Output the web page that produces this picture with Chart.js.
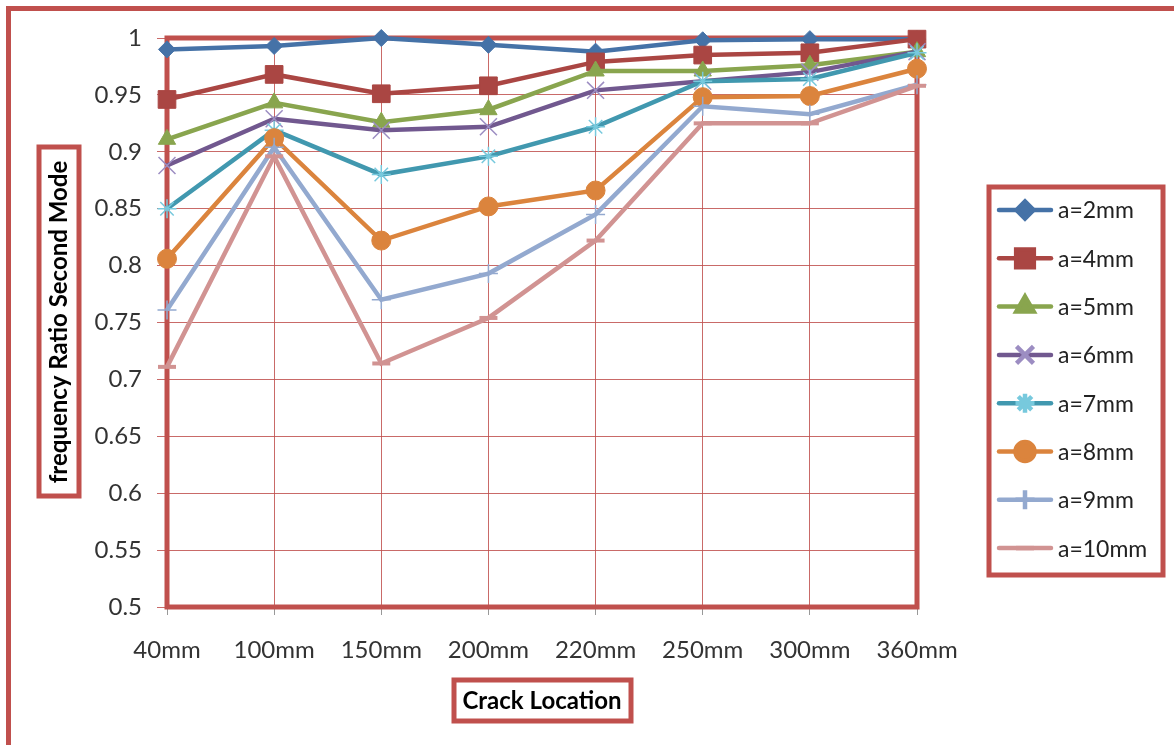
<!DOCTYPE html>
<html>
<head>
<meta charset="utf-8">
<script src="https://cdn.jsdelivr.net/npm/chart.js@4.4.1/dist/chart.umd.min.js"></script>
<style>
  body { margin: 0; background: #fff; overflow: hidden; }
  canvas { display: block; }
</style>
</head>
<body>
<canvas id="chart" width="1174" height="745"></canvas>
<script>
// crack location on x, frequency ratio (2nd mode) on y
const locations = ["40mm", "100mm", "150mm", "200mm", "220mm", "250mm", "300mm", "360mm"];

const a2mm  = [0.990, 0.993, 1.000, 0.994, 0.988, 0.998, 0.999, 0.999];
const a4mm  = [0.946, 0.968, 0.951, 0.958, 0.979, 0.985, 0.987, 0.999];
const a5mm  = [0.911, 0.943, 0.926, 0.937, 0.971, 0.971, 0.976, 0.988];
const a6mm  = [0.888, 0.929, 0.919, 0.922, 0.954, 0.962, 0.970, 0.988];
const a7mm  = [0.850, 0.919, 0.880, 0.896, 0.922, 0.962, 0.964, 0.987];
const a8mm  = [0.806, 0.912, 0.822, 0.852, 0.866, 0.948, 0.949, 0.973];
const a9mm  = [0.761, 0.904, 0.770, 0.793, 0.845, 0.940, 0.933, 0.959];
const a10mm = [0.711, 0.896, 0.714, 0.754, 0.822, 0.925, 0.925, 0.958];

const seriesLabels = ["a=2mm", "a=4mm", "a=5mm", "a=6mm", "a=7mm", "a=8mm", "a=9mm", "a=10mm"];

const RED = "#C0504D";
const FONT = "Lato";

function series(label, data, color, style, radius, markColor, markWidth, idx) {
    return {
        label: label,
        data: data,
        borderColor: color,
        backgroundColor: color,
        borderWidth: 4.5,
        pointStyle: style,
        pointRadius: radius,
        pointHoverRadius: radius,
        pointBackgroundColor: markColor,
        pointBorderColor: markColor,
        pointBorderWidth: markWidth,
        tension: 0,
        clip: false,
        order: 10 - idx
    };
}

const datasets = [
    series(seriesLabels[0], a2mm,  "#4572A7", "rectRot",  8.5, "#4572A7", 1, 0),
    series(seriesLabels[1], a4mm,  "#AA4643", "rect",     12.5, "#AA4643", 1, 1),
    series(seriesLabels[2], a5mm,  "#89A54E", "triangle", 10, "#89A54E", 1, 2),
    series(seriesLabels[3], a6mm,  "#71588F", "crossRot", 12, "#9C8DC2", 1.5, 3),
    series(seriesLabels[4], a7mm,  "#4198AF", "star",     9.5, "#77C9DD", 1.5, 4),
    series(seriesLabels[5], a8mm,  "#DB843D", "circle",   9.5, "#DB843D", 1, 5),
    series(seriesLabels[6], a9mm,  "#93A9CF", "cross",    9.5, "#93A9CF", 1.5, 6),
    series(seriesLabels[7], a10mm, "#D19392", "line",     9, "#D19392", 4, 7)
];

function box(ctx, x, y, w, h) {
    ctx.save();
    ctx.strokeStyle = RED;
    ctx.lineWidth = 5;
    ctx.strokeRect(x, y, w, h);
    ctx.restore();
}

const decorations = {
    id: "decorations",
    beforeDraw(chart) {
        const ctx = chart.ctx;
        box(ctx, 8.5, 8.5, 3000, 3000);

        // y title
        box(ctx, 39, 147, 40, 349);
        ctx.save();
        ctx.translate(59, 322);
        ctx.rotate(-Math.PI / 2);
        ctx.font = "bold 24px " + FONT;
        ctx.fillStyle = "#000";
        ctx.textAlign = "center";
        ctx.textBaseline = "middle";
        ctx.fillText("frequency Ratio Second Mode", 0, 0);
        ctx.restore();

        // x title
        box(ctx, 454, 680, 177, 41);
        ctx.save();
        ctx.font = "bold 24px " + FONT;
        ctx.fillStyle = "#000";
        ctx.textAlign = "center";
        ctx.textBaseline = "middle";
        ctx.fillText("Crack Location", 542, 701);
        ctx.restore();

        // legend frame
        box(ctx, 989, 187, 174, 388);
    },
    beforeDatasetsDraw(chart) {
        const a = chart.chartArea;
        box(chart.ctx, a.left, a.top, a.right - a.left, a.bottom - a.top);
    },
    afterDraw(chart) {
        const ctx = chart.ctx;
        chart.data.datasets.forEach((ds, i) => {
            const y = 210 + i * 48.3;
            ctx.save();
            ctx.strokeStyle = ds.borderColor;
            ctx.lineWidth = 4.5;
            ctx.lineCap = "round";
            ctx.beginPath();
            ctx.moveTo(999, y);
            ctx.lineTo(1051, y);
            ctx.stroke();
            ctx.fillStyle = ds.pointBackgroundColor;
            ctx.strokeStyle = ds.pointBorderColor;
            ctx.lineCap = "butt";
            Chart.helpers.drawPoint(ctx, {
                pointStyle: ds.pointStyle,
                radius: ds.pointRadius,
                rotation: 0,
                borderWidth: ds.pointBorderWidth
            }, 1025, y);
            ctx.fillStyle = "#222";
            ctx.font = "23px " + FONT;
            ctx.textAlign = "left";
            ctx.textBaseline = "middle";
            ctx.fillText(ds.label, 1058, y + 1);
            ctx.restore();
        });
    }
};

new Chart(document.getElementById("chart"), {
    type: "line",
    data: {
        labels: locations,
        datasets: datasets
    },
    options: {
        responsive: false,
        animation: false,
        devicePixelRatio: 1,
        layout: {
            padding: { left: 0, top: 38, right: 257, bottom: 0 }
        },
        plugins: {
            legend: { display: false },
            tooltip: { enabled: false }
        },
        scales: {
            x: {
                offset: false,
                afterFit: (s) => { s.height = 138; },
                grid: {
                    color: "rgba(192, 80, 77, 0.85)",
                    lineWidth: 1,
                    tickColor: "#999",
                    tickLength: 8
                },
                border: { display: false },
                ticks: {
                    color: "#333",
                    font: { family: FONT, size: 24 },
                    padding: 21,
                    maxRotation: 0,
                    autoSkip: false
                }
            },
            y: {
                min: 0.5,
                max: 1,
                afterFit: (s) => { s.width = 167; },
                grid: {
                    color: "rgba(192, 80, 77, 0.85)",
                    lineWidth: 1,
                    tickColor: "rgba(192, 80, 77, 0.85)",
                    tickLength: 10
                },
                border: { display: false },
                ticks: {
                    stepSize: 0.05,
                    color: "#333",
                    font: { family: FONT, size: 24 },
                    padding: 15,
                    callback: (v) => String(Number(v.toFixed(2)))
                }
            }
        }
    },
    plugins: [decorations]
});
</script>
</body>
</html>
